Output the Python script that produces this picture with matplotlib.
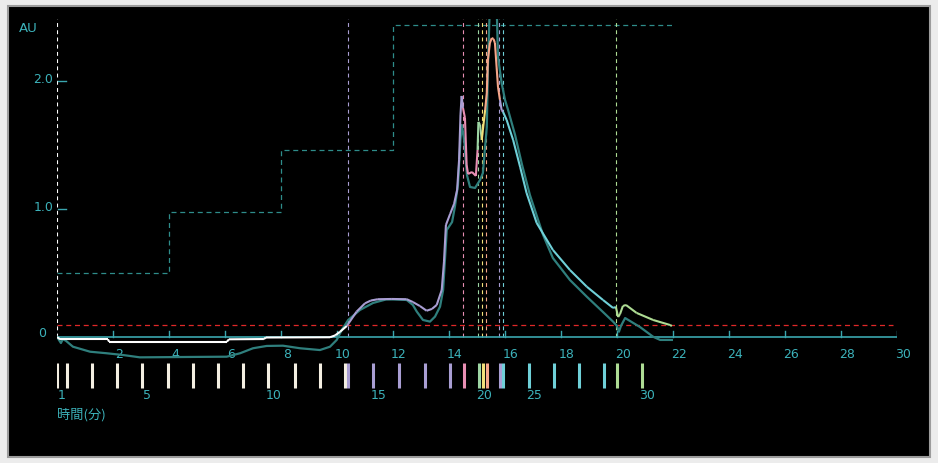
import matplotlib.pyplot as plt
from matplotlib.patches import Rectangle
from matplotlib.collections import LineCollection
import numpy as np

# main trace (coloured by fraction), minutes / AU
t_uv = [0, 0.11, 1.82, 1.86, 6.07, 6.14, 7.39, 7.46, 9.75, 9.93, 10.11, 10.35,
        10.70, 11.0, 11.21, 11.46, 11.96, 12.49, 12.71, 12.96, 13.20, 13.39, 13.56,
        13.74, 13.82, 13.89, 14.04, 14.18, 14.29, 14.36, 14.41, 14.45, 14.50, 14.57,
        14.63, 14.68, 14.82, 14.96, 15.02, 15.05, 15.11, 15.17, 15.21, 15.29, 15.35,
        15.39, 15.46, 15.53, 15.59, 15.64, 15.70, 15.75, 15.82, 15.88, 15.93, 16.06,
        16.29, 16.54, 16.77, 17.13, 17.71, 18.32, 18.92, 19.50, 19.86, 19.96, 20.04,
        20.11, 20.21, 20.32, 20.70, 21.29, 21.89, 21.96]
v_uv = [0, -0.018, -0.018, -0.037, -0.037, -0.018, -0.016, -0.004, -0.002, 0.012,
        0.041, 0.086, 0.198, 0.263, 0.285, 0.295, 0.297, 0.295, 0.273, 0.242, 0.205,
        0.219, 0.25, 0.367, 0.586, 0.875, 0.961, 1.039, 1.148, 1.383, 1.734, 1.883,
        1.789, 1.711, 1.344, 1.273, 1.289, 1.258, 1.461, 1.68, 1.656, 1.539, 1.617,
        1.773, 1.906, 2.164, 2.297, 2.336, 2.328, 2.297, 2.109, 1.953, 1.852, 1.773,
        1.758, 1.695, 1.539, 1.328, 1.125, 0.891, 0.68, 0.523, 0.393, 0.289, 0.227,
        0.234, 0.156, 0.18, 0.242, 0.25, 0.188, 0.133, 0.094, 0.086]

# second trace (dark teal)
t_2 = [0, 0.07, 0.14, 0.21, 0.32, 0.57, 1.18, 1.77, 2.36, 2.96, 4.75, 6.06, 6.54,
       7.0, 7.49, 8.07, 8.68, 9.39, 9.75, 9.99, 10.17, 10.40, 10.82, 11.29, 11.75,
       12.04, 12.49, 12.71, 12.85, 13.07, 13.32, 13.50, 13.68, 13.79, 13.92, 14.11,
       14.21, 14.32, 14.41, 14.46, 14.54, 14.64, 14.75, 14.93, 15.11, 15.21, 15.35,
       15.39, 15.46, 15.70, 15.75, 15.88, 16.0, 16.11, 16.36, 16.61, 16.89, 17.36,
       17.71, 18.32, 18.92, 19.50, 19.86, 20.0, 20.07, 20.14, 20.29, 20.82, 21.29,
       21.54, 21.96]
v_2 = [0, -0.023, -0.047, -0.016, -0.03, -0.076, -0.115, -0.127, -0.141, -0.159,
       -0.156, -0.154, -0.127, -0.088, -0.07, -0.068, -0.088, -0.102, -0.076, -0.023,
       0.055, 0.133, 0.211, 0.266, 0.293, 0.293, 0.289, 0.25, 0.198, 0.133, 0.12,
       0.159, 0.237, 0.367, 0.836, 0.898, 1.016, 1.188, 1.539, 1.656, 1.539, 1.266,
       1.172, 1.164, 1.227, 1.281, 1.641, 2.109, 2.6, 2.6, 2.188, 1.984, 1.852, 1.773,
       1.578, 1.344, 1.109, 0.797, 0.617, 0.445, 0.315, 0.195, 0.12, 0.086, 0.041,
       0.086, 0.148, 0.078, 0.002, -0.023, -0.023]

# gradient step
t_grad = [0, 4, 4, 8, 8, 12, 12, 22]
v_grad = [0.5, 0.5, 0.98, 0.98, 1.46, 1.46, 2.44, 2.44]

threshold = 0.095

# fraction marks
frac_t = [0, 0.36, 1.25, 2.14, 3.04, 3.96, 4.86, 5.75, 6.64, 7.54, 8.5, 9.39, 10.29,
          10.39, 11.29, 12.21, 13.14, 14.04, 14.54, 15.07, 15.21, 15.36, 15.82, 15.93,
          16.86, 17.75, 18.64, 19.54, 20.0, 20.89]
WHITE, PURPLE, PINK, GREEN = '#f4efe2', '#a99ed3', '#e98fb4', '#9ed6a4'
YELLOW, ORANGE, CYAN, LGREEN = '#f2e07a', '#f6a68a', '#6fd0d8', '#aedc94'
frac_c = [WHITE] * 13 + [PURPLE] * 5 + [PINK, GREEN, YELLOW, ORANGE, PURPLE] + \
         [CYAN] * 5 + [LGREEN] * 2
frac_labels = [1, 5, 10, 15, 20, 25, 30]

# colour change points of the main trace
seg_t = [0, 10.38, 14.51, 15.02, 15.19, 15.32, 15.79, 15.92, 19.96]
seg_c = ['#ffffff', PURPLE, PINK, GREEN, YELLOW, ORANGE, PURPLE, CYAN, LGREEN]

xticks = list(range(2, 31, 2))
teal_txt = '#3cb2ba'

fig = plt.figure(figsize=(9.38, 4.63), dpi=100)
fig.patch.set_facecolor('#ececec')
fig.patches.append(Rectangle((8 / 938, 6 / 463), 922 / 938, 451 / 463,
                             transform=fig.transFigure, facecolor='black',
                             edgecolor='#9c9c9c', lw=1.5, zorder=-10))

ax = fig.add_axes([57 / 938, 6 / 463, 840 / 938, 438 / 463])
ax.set_xlim(0, 30)
ax.set_ylim(-0.9375, 2.484)
ax.set_facecolor('none')
ax.axis('off')

# reference lines
ax.plot([0, 29.86], [threshold, threshold], color='#e02828', lw=0.9, dashes=(4, 3))
ax.plot(t_grad, v_grad, color='#2e8c8a', lw=0.9, dashes=(4, 3))
for t, c in zip(seg_t, seg_c):
    ax.plot([t, t], [0, 2.484], color=c, lw=0.8, dashes=(3.5, 3))

# x axis
ax.plot([0, 30], [0, 0], color='#3aa6ae', lw=1.2, zorder=2)
for t in xticks:
    ax.plot([t, t], [0, 0.05], color='#3aa6ae', lw=1.0, zorder=2)
    ax.text(t + 0.21, -0.14, str(t), color=teal_txt, fontsize=9,
            ha='center', va='center')

# y axis labels
for v in [1.0, 2.0]:
    ax.plot([0.03, 0.32], [v, v], color='#3aa6ae', lw=1.0, clip_on=False)
    ax.text(-0.14, v + 0.015, f'{v:.1f}', color=teal_txt, fontsize=9,
            ha='right', va='center')
ax.text(-0.54, 0.03, '0', color=teal_txt, fontsize=9, ha='center', va='center')
ax.text(-1.04, 2.406, 'AU', color=teal_txt, fontsize=9.5, ha='center', va='center',
        clip_on=False)

# traces
ax.plot(t_2, v_2, color='#2f7f7d', lw=1.6, zorder=3)
pts = np.column_stack([t_uv, v_uv])
segs = np.stack([pts[:-1], pts[1:]], axis=1)
cols = []
for a, b in zip(t_uv[:-1], t_uv[1:]):
    mid = (a + b) / 2
    idx = max(i for i, s in enumerate(seg_t) if s <= mid)
    cols.append(seg_c[idx])
ax.add_collection(LineCollection(segs, colors=cols, linewidths=1.5, zorder=4))

# fraction bars
for t, c in zip(frac_t, frac_c):
    ax.plot([t, t], [-0.203, -0.398], color=c, lw=2.2, solid_capstyle='butt')
for n in frac_labels:
    ax.text(frac_t[n - 1] + 0.18, -0.455, str(n), color=teal_txt, fontsize=9,
            ha='center', va='center')

ax.text(0, -0.61, '時間(分)', color=teal_txt, fontsize=9.5, ha='left', va='center',
        family=['Noto Sans CJK JP', 'DejaVu Sans'])

fig.savefig('out.png', dpi=100, facecolor=fig.get_facecolor())
